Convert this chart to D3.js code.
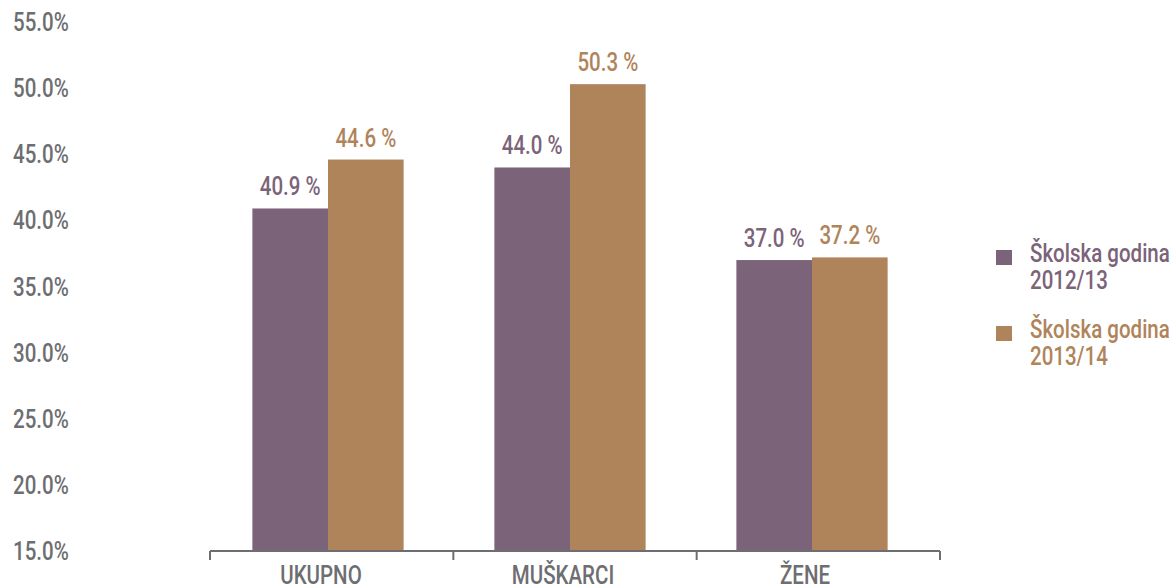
<!DOCTYPE html>
<html>
<head>
<meta charset="utf-8">
<script src="https://cdn.jsdelivr.net/npm/d3@7"></script>
<style>
  body { margin: 0; background: #fff; }
  svg text { font-family: Roboto, "Noto Sans", sans-serif; font-weight: 500; font-size: 25px; }
</style>
</head>
<body>
<div id="chart"></div>
<script>
// data
var categories = ["UKUPNO", "MUŠKARCI", "ŽENE"];
var seriesNames = ["Školska godina 2012/13", "Školska godina 2013/14"];
var values2012 = [40.9, 44.0, 37.0];
var values2013 = [44.6, 50.3, 37.2];
var yTicks = [15, 20, 25, 30, 35, 40, 45, 50, 55];

var colors = ["#7b6379", "#b0845b"];
var gray = "#6d6e71";

var width = 1173, height = 586;
var squeeze = 0.82; // the original font is a condensed face

var svg = d3.select("#chart")
  .append("svg")
    .attr("width", width)
    .attr("height", height);

function place(px, py) {
  return "translate(" + px + "," + py + ") scale(" + squeeze + ",1)";
}

var data = categories.map(function(c, i) {
  return { cat: c, vals: [values2012[i], values2013[i]] };
});

// axis scale (category cells between the ticks)
var xAxisScale = d3.scaleBand()
  .domain(categories)
  .range([210, 940]);

// bar scale, sits a little to the left in the original
var x = d3.scaleBand()
  .domain(categories)
  .range([207, 933])
  .paddingInner(0.375)
  .paddingOuter(0.1875);

var xSub = d3.scaleBand()
  .domain([0, 1])
  .range([0, x.bandwidth()]);

// Y axis
var y = d3.scaleLinear()
  .domain([15, 55])
  .range([551, 22]);

// y tick labels (no axis line in the picture)
svg.append("g")
  .selectAll("text")
  .data(yTicks)
  .enter()
  .append("text")
  .attr("transform", function(d) { return place(13, y(d) + 9); })
  .attr("fill", gray)
  .text(function(d) { return d.toFixed(1) + "%"; });

// bars
var groups = svg.append("g")
  .selectAll("g")
  .data(data)
  .enter()
  .append("g")
  .attr("transform", function(d) { return "translate(" + x(d.cat) + ",0)"; });

groups.selectAll("rect")
  .data(function(d) { return d.vals; })
  .enter()
  .append("rect")
  .attr("x", function(d, i) { return xSub(i); })
  .attr("y", function(d) { return y(d); })
  .attr("width", xSub.bandwidth())
  .attr("height", function(d) { return y(15) - y(d); })
  .attr("fill", function(d, i) { return colors[i]; });

groups.selectAll("text")
  .data(function(d) { return d.vals; })
  .enter()
  .append("text")
  .attr("transform", function(d, i) { return place(xSub(i) + xSub.bandwidth() / 2, y(d) - 13); })
  .attr("text-anchor", "middle")
  .attr("fill", function(d, i) { return colors[i]; })
  .text(function(d) { return d.toFixed(1) + " %"; });

// x axis line with ticks between categories
var xAxis = svg.append("g")
  .attr("transform", "translate(0," + y(15) + ")");

xAxis.append("line")
  .attr("x1", xAxisScale.range()[0])
  .attr("x2", xAxisScale.range()[1])
  .attr("stroke", gray)
  .attr("stroke-width", 2);

var tickPos = categories.map(function(c) { return xAxisScale(c); }).concat([xAxisScale.range()[1]]);

xAxis.selectAll(".tk")
  .data(tickPos)
  .enter()
  .append("line")
  .attr("class", "tk")
  .attr("x1", function(d) { return d; })
  .attr("x2", function(d) { return d; })
  .attr("y1", 0)
  .attr("y2", 9)
  .attr("stroke", gray)
  .attr("stroke-width", 2);

xAxis.selectAll(".cat")
  .data(categories)
  .enter()
  .append("text")
  .attr("class", "cat")
  .attr("transform", function(d) { return place(x(d) + x.bandwidth() / 2 - 7, 33); })
  .attr("text-anchor", "middle")
  .attr("fill", gray)
  .text(function(d) { return d; });

// legend
var legend = svg.append("g")
  .selectAll("g")
  .data(seriesNames)
  .enter()
  .append("g")
  .attr("transform", function(d, i) { return "translate(996," + (250 + i * 76) + ")"; });

legend.append("rect")
  .attr("width", 16)
  .attr("height", 15)
  .attr("fill", function(d, i) { return colors[i]; });

legend.each(function(d, i) {
  var parts = d.split(" ");
  var t = d3.select(this).append("text")
    .attr("transform", place(34, 12))
    .attr("fill", colors[i]);
  t.append("tspan").attr("x", 0).text(parts[0] + " " + parts[1]);
  t.append("tspan").attr("x", 0).attr("dy", 27).text(parts[2]);
});
</script>
</body>
</html>
